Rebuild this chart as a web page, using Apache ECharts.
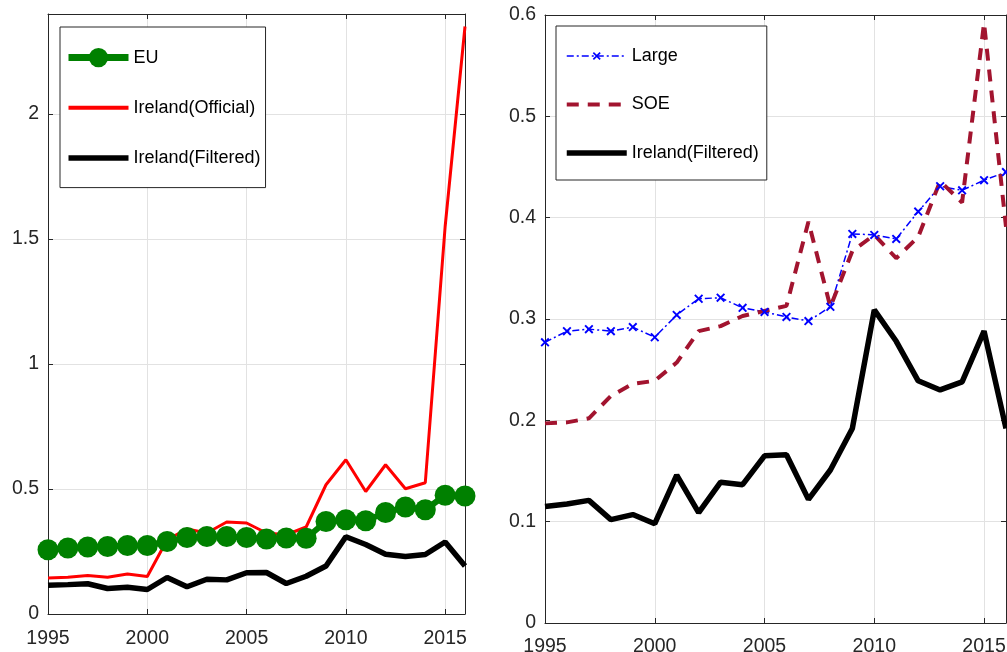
<!DOCTYPE html>
<html>
<head>
<meta charset="utf-8">
<script src="https://cdn.jsdelivr.net/npm/echarts@6/dist/echarts.min.js"></script>
<style>
html,body{margin:0;padding:0;background:#fff;}
#chart{width:1007px;height:652px;}
</style>
</head>
<body>
<div id="chart"></div>
<script>
var years = [1995,1996,1997,1998,1999,2000,2001,2002,2003,2004,2005,2006,2007,2008,2009,2010,2011,2012,2013,2014,2015,2016];
var euValues = [0.257,0.264,0.268,0.270,0.274,0.274,0.290,0.306,0.310,0.310,0.306,0.300,0.304,0.303,0.370,0.377,0.373,0.406,0.428,0.417,0.475,0.472];
var irelandOfficial = [0.144,0.147,0.154,0.147,0.160,0.150,0.297,0.340,0.324,0.368,0.364,0.324,0.317,0.348,0.517,0.617,0.490,0.597,0.501,0.525,1.55,2.35];
var irelandFiltered = [0.115,0.1175,0.121,0.102,0.107,0.098,0.146,0.109,0.139,0.1365,0.165,0.166,0.122,0.151,0.192,0.309,0.278,0.239,0.230,0.238,0.288,0.192];
var largeValues = [0.277,0.288,0.290,0.288,0.292,0.282,0.304,0.320,0.321,0.311,0.307,0.302,0.298,0.312,0.384,0.383,0.379,0.406,0.431,0.427,0.437,0.445];
var soeValues = [0.197,0.198,0.202,0.224,0.236,0.239,0.257,0.288,0.293,0.303,0.308,0.313,0.396,0.312,0.367,0.383,0.360,0.381,0.436,0.415,0.592,0.391];
var leftYTicks = {min:0, max:2.4, interval:0.5};
var rightYTicks = {min:0, max:0.6, interval:0.1};
var xTicks = {min:1995, max:2016, interval:5};

function pairs(vals){ return years.map(function(y,i){ return [y, vals[i]]; }); }

var FONT = "'Liberation Sans', Arial, Helvetica, sans-serif";
var AX = '#262626';
var GRIDC = '#e2e2e2';

function xAx(grid, pos, margin){
  var bottom = pos === 'bottom';
  return {
    type:'value', gridIndex:grid, position:pos,
    min:xTicks.min, max:xTicks.max, interval:xTicks.interval,
    axisLine:{show:true, onZero:false, lineStyle:{color:AX, width:1}},
    axisTick:{show:true, inside:true, length:5, lineStyle:{color:AX}},
    axisLabel:{show:bottom, showMaxLabel:false, color:AX, fontFamily:FONT, fontSize:19.5, margin:margin,
      formatter:function(v){ return String(v); }},
    splitLine:{show:bottom, lineStyle:{color:GRIDC, width:1}}
  };
}
function yAx(grid, pos, t, hideMax){
  var left = pos === 'left';
  return {
    type:'value', gridIndex:grid, position:pos,
    min:t.min, max:t.max, interval:t.interval,
    axisLine:{show:true, onZero:false, lineStyle:{color:AX, width:1}},
    axisTick:{show:true, inside:true, length:5, lineStyle:{color:AX}},
    axisLabel:{show:left, showMaxLabel:!hideMax, color:AX, fontFamily:FONT, fontSize:19.5, margin:9},
    splitLine:{show:left, lineStyle:{color:GRIDC, width:1}}
  };
}

var xPath = 'path://M0,1.5L1.5,0L10,8.5L8.5,10Z M8.5,0L10,1.5L1.5,10L0,8.5Z';

var option = {
  animation:false,
  backgroundColor:'#ffffff',
  textStyle:{fontFamily:FONT},
  grid:[
    {left:48, top:14, width:417, height:600, outerBoundsMode:'none', containLabel:false},
    {left:545, top:15, width:461, height:608, outerBoundsMode:'none', containLabel:false}
  ],
  xAxis:[ xAx(0,'bottom',15), xAx(0,'top',9), xAx(1,'bottom',14), xAx(1,'top',9) ],
  yAxis:[ yAx(0,'left',leftYTicks,true), yAx(0,'right',leftYTicks,true), yAx(1,'left',rightYTicks,false), yAx(1,'right',rightYTicks,false) ],
  legend:[
    {
      orient:'vertical', left:60, top:27, selectedMode:false,
      itemWidth:60, itemHeight:24, itemGap:31,
      padding:[21,5,20,5],
      borderColor:AX, borderWidth:1, backgroundColor:'#fff',
      textStyle:{fontFamily:FONT, fontSize:18, color:'#000'},
      data:[
        {name:'EU', lineStyle:{width:7}},
        {name:'Ireland(Official)', itemStyle:{opacity:0}, lineStyle:{width:4}},
        {name:'Ireland(Filtered)', itemStyle:{opacity:0}, lineStyle:{width:5.5}}
      ]
    },
    {
      orient:'vertical', left:556, top:26, selectedMode:false,
      itemWidth:60, itemHeight:10, itemGap:30.5,
      padding:[21,8,18,8],
      borderColor:AX, borderWidth:1, backgroundColor:'#fff',
      textStyle:{fontFamily:FONT, fontSize:18, color:'#000'},
      data:[
        {name:'Large', lineStyle:{width:1.5}},
        {name:'SOE', itemStyle:{opacity:0}, lineStyle:{width:4}},
        {name:'Ireland(Filtered)', itemStyle:{opacity:0}, lineStyle:{width:5.5}}
      ]
    }
  ],
  series:[
    {name:'EU', type:'line', xAxisIndex:0, yAxisIndex:0, data:pairs(euValues),
      symbol:'circle', symbolSize:21, itemStyle:{color:'#008000'},
      lineStyle:{color:'#008000', width:6}},
    {name:'Ireland(Official)', type:'line', xAxisIndex:0, yAxisIndex:0, data:pairs(irelandOfficial),
      symbol:'none', itemStyle:{color:'#ff0000'}, lineStyle:{color:'#ff0000', width:3}},
    {name:'Ireland(Filtered)', type:'line', xAxisIndex:0, yAxisIndex:0, data:pairs(irelandFiltered),
      symbol:'none', itemStyle:{color:'#000000'}, lineStyle:{color:'#000000', width:5.5}},
    {name:'Large', type:'line', xAxisIndex:2, yAxisIndex:2, data:pairs(largeValues),
      symbol:xPath, symbolSize:9, itemStyle:{color:'#0000ff'},
      lineStyle:{color:'#0000ff', width:1.5, type:[7,3,2,3]}},
    {name:'SOE', type:'line', xAxisIndex:2, yAxisIndex:2, data:pairs(soeValues),
      symbol:'none', itemStyle:{color:'#a2142f'}, lineStyle:{color:'#a2142f', width:4, type:[12,9]}},
    {name:'Ireland(Filtered)', type:'line', xAxisIndex:2, yAxisIndex:2, data:pairs(irelandFiltered),
      symbol:'none', itemStyle:{color:'#000000'}, lineStyle:{color:'#000000', width:5.5}}
  ]
};

var chart = echarts.init(document.getElementById('chart'), null, {renderer:'canvas'});
chart.setOption(option);
</script>
</body>
</html>
